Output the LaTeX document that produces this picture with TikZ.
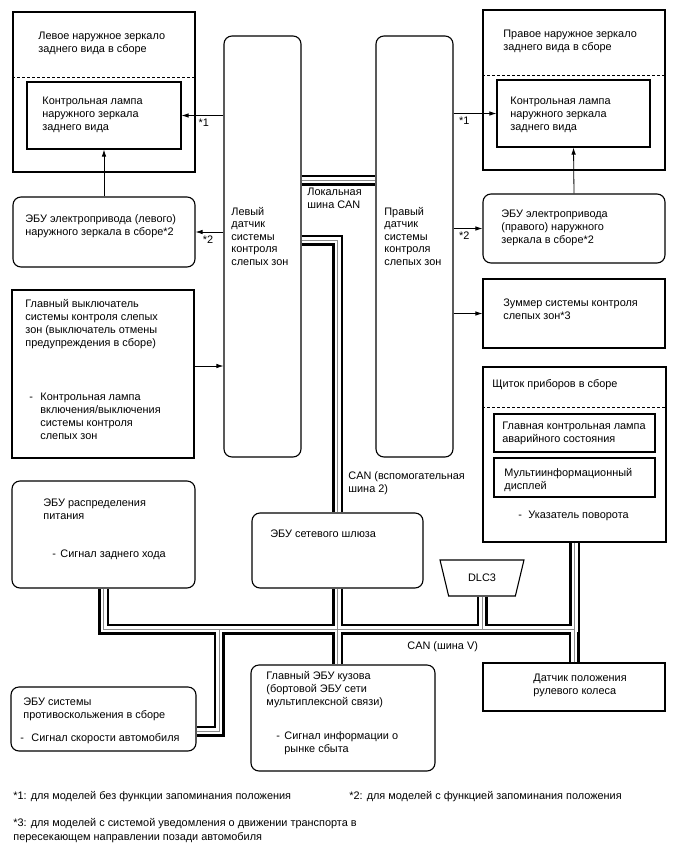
\documentclass[tikz,border=0pt]{standalone}
\usepackage{fontspec}
\setmainfont{Liberation Sans}
\usetikzlibrary{arrows.meta,shapes.geometric}
\tikzset{
  blk/.style={draw,line width=1.1pt,inner sep=0pt},
  rblk/.style={blk,rounded corners=8pt},
  txt/.style={anchor=base west,align=left,inner sep=0pt},
  bus/.style={-,line width=11pt,
    postaction={draw,white,line width=6pt},
    postaction={draw,black!45,line width=0.8pt}},
  sep/.style={-,line width=0.9pt,dash pattern=on 3pt off 2pt}
}
\begin{document}
\begin{tikzpicture}[x=1pt,y=-1pt,->,>={Latex[length=7pt,width=4.5pt]},line width=0.8pt,
    font=\fontsize{10.9}{13}\selectfont]
  \useasboundingbox (0,0) rectangle (688,852);
  % mirrors, sensors
  \node[blk,minimum width=182pt,minimum height=160pt] (lmir) at (104,92) {};
  \node[blk,minimum width=154pt,minimum height=67pt] (llamp) at (104,115.5) {};
  \node[rblk,minimum width=182pt,minimum height=70pt] (lecu) at (104,232) {};
  \node[rblk,minimum width=77pt,minimum height=421pt] (lsens) at (262.5,246.5) {};
  \node[rblk,minimum width=77pt,minimum height=421pt] (rsens) at (414.5,246.5) {};
  \node[blk,minimum width=182pt,minimum height=160pt] (rmir) at (574,90) {};
  \node[blk,minimum width=153pt,minimum height=67pt] (rlamp) at (573.5,113.5) {};
  \node[rblk,minimum width=182pt,minimum height=69pt] (recu) at (574,228.5) {};
  \node[blk,minimum width=182pt,minimum height=168pt] (msw) at (103,374) {};
  \node[blk,minimum width=182pt,minimum height=69pt] (buz) at (574,313.5) {};
  \node[blk,minimum width=183pt,minimum height=175pt] (cl) at (574.5,454.5) {};
  \node[blk,minimum width=161pt,minimum height=38pt] (warn) at (574.5,433) {};
  \node[blk,minimum width=161pt,minimum height=39pt] (mid) at (574.5,477.5) {};
  % CAN V
  \node[rblk,minimum width=183pt,minimum height=107pt] (pdu) at (103.5,534.5) {};
  \node[rblk,minimum width=171pt,minimum height=75pt] (gw) at (337.5,550.5) {};
  \node[blk,trapezium,trapezium angle=115,trapezium stretches=true,
    minimum width=84pt,minimum height=36pt] (dlc) at (482,578) {DLC3};
  \node[rblk,minimum width=185pt,minimum height=64pt] (abs) at (103.5,719) {};
  \node[rblk,minimum width=184pt,minimum height=106pt] (body) at (343,718) {};
  \node[blk,minimum width=182pt,minimum height=48pt] (steer) at (574,687) {};

  \draw[sep] (lmir.west |- 0,77) -- (lmir.east |- 0,77);
  \draw[sep] (rmir.west |- 0,75) -- (rmir.east |- 0,75);
  \draw[sep] (cl.west |- 0,407) -- (cl.east |- 0,407);

  % texts (placed at the baseline of their last line)
  \node[txt] (lmirT) at (38,52) {Левое наружное зеркало\\заднего вида в сборе};
  \node[txt] (llampT) at (42,130) {Контрольная лампа\\наружного зеркала\\заднего вида};
  \node[txt] (lecuT) at (25,235) {ЭБУ электропривода (левого)\\наружного зеркала в сборе*2};
  \node[txt,font=\fontsize{10.9}{12.5}\selectfont] (lsensT) at (231,265) {Левый\\датчик\\системы\\контроля\\слепых зон};
  \node[txt,font=\fontsize{10.9}{12.5}\selectfont] (rsensT) at (384,265) {Правый\\датчик\\системы\\контроля\\слепых зон};
  \node[txt] (locT) at (307,208) {Локальная\\шина CAN};
  \node[txt] (rmirT) at (503,50) {Правое наружное зеркало\\заднего вида в сборе};
  \node[txt] (rlampT) at (510,130) {Контрольная лампа\\наружного зеркала\\заднего вида};
  \node[txt] (recuT) at (501,243) {ЭБУ электропривода\\(правого) наружного\\зеркала в сборе*2};
  \node[txt] (mswT) at (25,346) {Главный выключатель\\системы контроля слепых\\зон (выключатель отмены\\предупреждения в сборе)};
  \node[txt] (mswD) at (29,400) {-};
  \node[txt] (mswB) at (40,439) {Контрольная лампа\\включения/выключения\\системы контроля\\слепых зон};
  \node[txt] (buzT) at (503,319) {Зуммер системы контроля\\слепых зон*3};
  \node[txt] (clT) at (492,387) {Щиток приборов в сборе};
  \node[txt] (warnT) at (502,442) {Главная контрольная лампа\\аварийного состояния};
  \node[txt] (midT) at (504,489) {Мультиинформационный\\дисплей};
  \node[txt] (clD) at (518,518) {-};
  \node[txt] (clB) at (528,518) {Указатель поворота};
  \node[txt] (subT) at (348,492) {CAN (вспомогательная\\шина 2)};
  \node[txt] (pduT) at (43,519) {ЭБУ распределения\\питания};
  \node[txt] (pduD) at (52,557) {-};
  \node[txt] (pduB) at (60,557) {Сигнал заднего хода};
  \node[txt] (gwT) at (270,537) {ЭБУ сетевого шлюза};
  \node[txt] (canvT) at (407,649) {CAN (шина V)};
  \node[txt] (absT) at (23,718) {ЭБУ системы\\противоскольжения в сборе};
  \node[txt] (absD) at (20,741) {-};
  \node[txt] (absB) at (31,741) {Сигнал скорости автомобиля};
  \node[txt] (bodyT) at (266,705) {Главный ЭБУ кузова\\(бортовой ЭБУ сети\\мультиплексной связи)};
  \node[txt] (bodyD) at (276,739) {-};
  \node[txt] (bodyB) at (284,752) {Сигнал информации о\\рынке сбыта};
  \node[txt] (steerT) at (533,694) {Датчик положения\\рулевого колеса};
  \node[txt] (fn1) at (13,799) {*1: для моделей без функции запоминания положения};
  \node[txt] (fn2) at (349,799) {*2: для моделей с функцией запоминания положения};
  \node[txt,font=\fontsize{10.9}{14}\selectfont] (fn3) at (13,840) {*3: для моделей с системой уведомления о движении транспорта в\\пересекающем направлении позади автомобиля};

  % arrows
  \draw (lsens.west |- llamp.east) -- node[below,pos=0.47,inner sep=3pt] (s1l) {*1} (llamp.east);
  \draw (lsens.west |- lecu.east) -- node[below,pos=0.55,inner sep=3pt] (s2l) {*2} (lecu.east);
  \draw (lecu.north) -- (llamp.south);
  \draw (rsens.east |- rlamp.west) -- node[below,pos=0.25,inner sep=3pt] (s1r) {*1} (rlamp.west);
  \draw (rsens.east |- recu.west) -- node[below,pos=0.37,inner sep=3pt] (s2r) {*2} (recu.west);
  \draw (recu.north) -- (rlamp.south);
  \draw ([yshift=8pt]msw.east) -- ([yshift=8pt]msw.east -| lsens.west);
  \draw (rsens.east |- buz.west) -- (buz.west);

  % buses
  \coordinate (vb) at (0,629);
  \coordinate (sb) at (0,240);
  \coordinate (lb) at (0,180);
  \coordinate (ab) at (219,731);
  \draw[bus] (pdu.south) -- (pdu.south |- vb) -- (cl.south |- vb) -- (cl.south)
    (steer.north) -- (steer.north |- vb)
    (gw.south) -- (gw.south |- body.north)
    (dlc.south) -- (dlc.south |- vb)
    (ab |- vb) -- (ab) -- (ab -| abs.east);
  \draw[bus] (lsens.east |- lb) -- (rsens.west |- lb);
  \draw[bus] (lsens.east |- sb) -- (gw.north |- sb) -- (gw.north);
\end{tikzpicture}
\end{document}
